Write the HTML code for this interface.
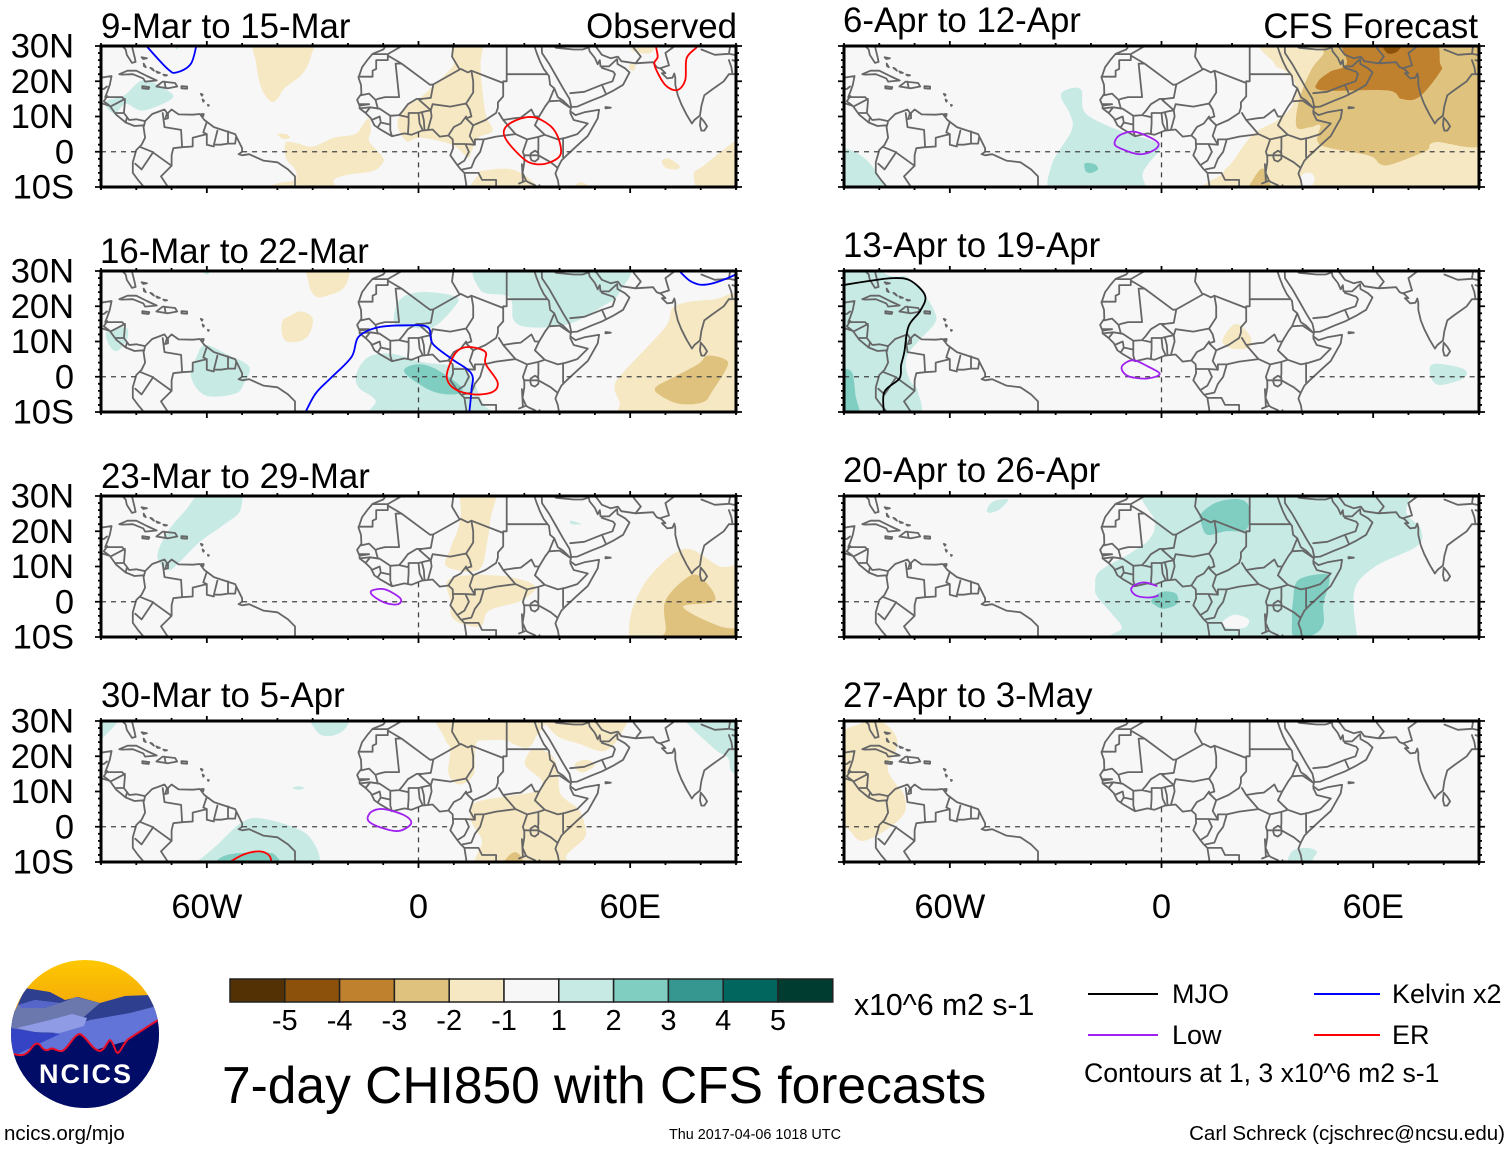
<!DOCTYPE html>
<html lang="en">
<head>
<meta charset="utf-8">
<title>7-day CHI850 with CFS forecasts</title>
<style>
html,body{margin:0;padding:0;background:#fff;}
svg{display:block;font-family:"Liberation Sans",Arial,sans-serif;fill:#000;}
</style>
</head>
<body>
<svg id="chart" xmlns="http://www.w3.org/2000/svg" width="1510" height="1149" viewBox="0 0 1510 1149">
<g id="panels"></g>
<g id="titles" font-size="34.8">
<text x="101" y="38">9-Mar to 15-Mar</text>
<text x="100" y="263">16-Mar to 22-Mar</text>
<text x="101" y="488">23-Mar to 29-Mar</text>
<text x="101" y="707">30-Mar to 5-Apr</text>
<text x="843" y="32">6-Apr to 12-Apr</text>
<text x="843" y="257">13-Apr to 19-Apr</text>
<text x="843" y="482">20-Apr to 26-Apr</text>
<text x="843" y="707">27-Apr to 3-May</text>
<text x="737" y="38" text-anchor="end">Observed</text>
<text x="1478" y="38" text-anchor="end">CFS Forecast</text>
</g>
<g id="colorbar"></g>
<text x="854" y="1015" font-size="30.2">x10^6 m2 s-1</text>
<text x="222" y="1103" font-size="51.5">7-day CHI850 with CFS forecasts</text>
<g font-size="27">
<line x1="1088" y1="994" x2="1158" y2="994" stroke="#000" stroke-width="2"/>
<text x="1172" y="1003">MJO</text>
<line x1="1088" y1="1035" x2="1158" y2="1035" stroke="#a020f0" stroke-width="2"/>
<text x="1172" y="1044">Low</text>
<line x1="1314" y1="994" x2="1380" y2="994" stroke="#0000ff" stroke-width="2"/>
<text x="1392" y="1003">Kelvin x2</text>
<line x1="1314" y1="1035" x2="1380" y2="1035" stroke="#ff0000" stroke-width="2"/>
<text x="1392" y="1044">ER</text>
<text x="1084" y="1082" font-size="26.6">Contours at 1, 3 x10^6 m2 s-1</text>
</g>
<text x="4" y="1140" font-size="20.5">ncics.org/mjo</text>
<text x="669" y="1139" font-size="14.4">Thu 2017-04-06 1018 UTC</text>
<text x="1505" y="1140" font-size="20.5" text-anchor="end">Carl Schreck (cjschrec@ncsu.edu)</text>
<g>
<defs>
<clipPath id="logoClip"><circle cx="85" cy="1034" r="74"/></clipPath>
<linearGradient id="sun" x1="0" y1="0" x2="0" y2="1"><stop offset="0" stop-color="#ffc800"/><stop offset="1" stop-color="#f2a20c"/></linearGradient>
</defs>
<g clip-path="url(#logoClip)">
<rect x="10" y="960" width="150" height="60" fill="url(#sun)"/>
<rect x="10" y="1010" width="150" height="100" fill="#000c66"/>
<path fill="#2f3f8f" d="M5,1035L25,988L50,992L65,1000L78,997L100,1003L125,996L150,995L165,1030Z"/>
<path fill="#6b78ad" d="M5,1028L18,1005L35,1000L60,1003L76,997L100,1003L85,1016L60,1032L5,1034Z"/>
<path fill="#5565c8" d="M18,1005L35,1000L60,1003L45,1008L22,1008Z"/>
<path fill="#6374d8" d="M10,1058L60,1030L90,1020L130,1013L157,1006L165,1018L130,1040L60,1060Z"/>
<path fill="#8f9be4" d="M17,1028L50,1020L72,1014L87,1018L84,1026L60,1033L35,1032Z"/>
<path fill="#3444c4" d="M5,1027L35,1032L60,1034L30,1048L10,1058Z"/>
<path fill="#000c66" d="M14,1054C20,1056 25,1056 30,1050C34,1044 37,1042 40,1045C44,1051 47,1051 50,1049C54,1047 57,1052 62,1051C68,1049 74,1034 80,1034C86,1036 92,1050 100,1051C105,1050 108,1040 110,1040C114,1042 115,1053 118,1053C122,1050 125,1040 130,1038L158,1020L165,1110L5,1110Z"/>
<path fill="none" stroke="#e8102a" stroke-width="2" d="M14,1054C20,1056 25,1056 30,1050C34,1044 37,1042 40,1045C44,1051 47,1051 50,1049C54,1047 57,1052 62,1051C68,1049 74,1034 80,1034C86,1036 92,1050 100,1051C105,1050 108,1040 110,1040C114,1042 115,1053 118,1053C122,1050 125,1040 130,1038L158,1020"/>
</g>
<text id="logoWord" x="86" y="1083" font-size="27" font-weight="bold" text-anchor="middle" letter-spacing="2" style="fill:#fff">NCICS</text>
</g>
</svg>
<script>
// Axis labels and colorbar values
const xTickLons = [-60, 0, 60];
const xTickLabels = ['60W', '0', '60E'];
const xMinorLons = [-90,-80,-70,-50,-40,-30,-20,-10,10,20,30,40,50,70,80,90];
const yTickLats = [30, 20, 10, 0, -10];
const yTickLabels = ['30N', '20N', '10N', '0', '10S'];
const cbColors = ['#543005','#8c510a','#bf812d','#dfc27d','#f6e8c3','#f7f7f7','#c7eae5','#80cdc1','#35978f','#01665e','#003c30'];
const cbLabels = ['-5','-4','-3','-2','-1','1','2','3','4','5'];

// Filled anomaly regions: [level, [lon,lat, lon,lat, ...]]
const shadingObs1 = [
 [-1,[-46,33,-46,25,-44.5,18,-42,14.3,-40,15,-38,18,-33,22,-30.5,27,-30.5,33]],
 [1,[-88.6,13,-88,14.6,-83.4,16,-78,20.3,-71.2,17.4,-70,15,-78,11.7,-83,13.6,-86,10.8]],
 [1,[-69.5,31,-68.5,29,-67.5,31]],
 [-1,[-40,5,-37.5,5,-36.4,4,-38,3.6,-39,4]],
 [-1,[-37.7,2.5,-37.5,-2,-35,-5,-35,-8,-40,-9,-46,-11.5,-25,-11.5,-24,-8,-20,-6.5,-13,-5.5,-10,-3,-10.5,-1,-14,3,-13.5,6,-14,9.5,-15.5,8,-18,5,-24,4,-30,1.5,-35,2.5]],
 [-1,[10,33,9.5,27,9.5,24,0.7,15.5,-3.4,12.7,-6,8,-3.4,3,0.7,4,9.5,2,14,-1.6,15,0,17,4,21,6,19,11,17.6,24,18,33]],
 [-1,[17,-6.4,18,-5.4,26.5,-5,33,-9,33.5,-11.5,15.6,-11.5]],
 [-1,[43.4,-11.5,46,-8.6,50,-11.5]],
 [-1,[69,-2.5,71,-2,74,-4,73,-5,70,-4.5]],
 [-1,[78,-6.5,80.7,-4,89.5,3,93,6,93,-12,80.7,-12]],
 [-1,[60.4,31,61,28.5,65.8,28,66.5,31]],
 [-1,[60,25,61.5,24.5,61,23,59.8,23.5]]
];
const shadingObs2 = [
 [-1,[-31,33,-31,26,-29,22.7,-26,23,-22,24.5,-20,27.5,-20,33]],
 [-1,[-38.7,15.5,-36,17.5,-33,18.5,-30,16.5,-31,12,-34,10,-38,10.5]],
 [1,[-6.8,15,-5.4,21.7,0.7,24,10.8,22.6,9.5,19,4,14,-2,14]],
 [1,[17.6,24.5,19,33,57.7,33,57,24,52.2,20,42.7,15,31.9,14,27,16,25.8,22.6]],
 [1,[-88,13,-83,14,-82.5,11,-85,7.5,-87,8,-88.5,11]],
 [1,[-63,5.5,-60.4,9,-53.6,6,-48,2.8,-49.5,-2,-52,-4.8,-60.4,-5.3,-64.5,0]],
 [1,[-62,31,-60,29,-58.5,31]],
 [1,[-17.6,0.9,-14.2,5.6,-7.5,6.5,0.7,4.2,11.5,2.8,15,-0.1,18.3,-7.6,21,-10,21,-12,-12.2,-12,-12.2,-6.7,-17,-3]],
 [2,[-4,1.3,-0.7,3.5,4.7,2.3,12.2,-3,10.2,-5,3.4,-3.9]],
 [-1,[55.6,-3,57.7,0.9,69.9,14,72.6,20,83.4,21.9,93,21,93,-12,60,-12,57,-7]],
 [-2,[67.2,-3,72.6,0,79.4,3.7,82,6,86.8,5,87.5,2.8,83.4,-3.9,80.7,-7.2,74,-7.7,68.5,-5.3]]
];
const shadingObs3 = [
 [1,[-74,13,-71,20,-66,26,-60,33,-51,33,-50.5,26,-55,22,-62,17,-68,11,-71,9]],
 [-1,[12.5,33,22,33,20.5,24,19.5,17,17,9,8,10,9,15,11,20,12,25]],
 [-1,[9,6.6,23,7.4,33,4.5,29,0.3,20,-2.5,17.4,-7,10,-5,9,0.3]],
 [1,[43,23,45,22.5,46,22,43.5,22]],
 [-1,[59.5,-11,60.5,-2.5,65.7,7.4,75.6,15,85.5,10,93,9,93,-12,59,-12]],
 [-2,[70,-8.5,70,0.3,77,7.4,81,6,84,0.3,75,-1.5,85.5,-7,93,-8,93,-12,67,-12]]
];
const shadingObs4 = [
 [1,[-93,23,-85,30,-85,33,-93,33]],
 [1,[-31,33,-28.6,26.8,-24.5,25.8,-20.4,28.3,-20,33]],
 [1,[-35.7,11,-34,11.5,-32.4,11,-34,10.5]],
 [1,[-64,-11,-58,-6,-50,1.3,-44,2.3,-33.4,-1,-29.2,-5.4,-27.5,-11,-27,-13,-65,-13]],
 [2,[-57.5,-10,-53.4,-7.8,-42.8,-7.3,-39.9,-8.8,-39.3,-10.5,-39,-13,-58,-13]],
 [-1,[6.5,33,7.5,25,9,22,8.5,15,11.5,12,15.5,14.5,16,20,16.5,24,19,24.5,24.5,24.5,28,23,31,22.5,33,25,35,33]],
 [-1,[36.3,33,38.6,26.3,45.6,23.5,52.7,21.5,57.4,26.3,58,33]],
 [-1,[15,1.5,15.5,6.5,24,8.5,33,10,35,13,30.5,17,30.5,19.6,32.7,22,37.4,20.6,39.5,16,40,10,42,7.5,45.6,4.7,47.4,-0.6,46.8,-3.5,42,-8,40.3,-12,17.3,-12,18,-4]],
 [-1,[44.5,18,45,16,47,15.5,50,17.5,47.5,19]],
 [-2,[24,-10.5,26.8,-7.3,29,-8.3,29.7,-11,27,-12]],
 [1,[74.5,33,83.4,22.5,87.7,19.6,88.7,15.8,93,15,93,33]]
];
const shadingFcst1 = [
 [1,[-93,1,-89,0.8,-84.5,-1.6,-81,-5.4,-78.7,-9.7,-78,-12,-93,-12]],
 [1,[-28.5,15.5,-27,17.6,-22.8,17.6,-21.4,10.8,-10.6,5.5,-3.8,3.6,-0.4,1.2,-3.8,-3.5,-5.4,-6.4,-4.5,-9.7,-4,-12,-29.6,-12,-31.2,-4,-25.5,6,-26,10.8]],
 [2,[-21.7,-3.3,-19,-3.5,-18,-5,-20,-6,-21.5,-5.5]],
 [-1,[17,-12,17.5,-6,20,-3,26,5,33,9,37,13,38,19,35,23,32,25,32,33,93,33,93,-12]],
 [-2,[38.3,7,39,14.6,42.3,23,45.7,27.4,50.5,33,93,33,93,3.6,77.6,2.7,75,0.3,65.4,-3.5,62,-3.5,58.6,-1,45,2,45,7.4,42.3,7]],
 [-2,[24,-11,28,-5,30,-6.4,30.5,-12,23,-12]],
 [0,[39.6,-6.9,42.3,-6,43.4,-8,41.7,-11,39.6,-11]],
 [-3,[44.3,19.8,47.8,22.7,52.5,25,52.5,33,75.6,33,79,25,79,22.7,73,15.5,68,15,64,17.4,45.7,17.4]],
 [-4,[62.7,31,64,28,66.8,28.4,68,31]]
];
const shadingFcst2 = [
 [1,[-93,33,-77,28.7,-72,28.2,-67,23,-64,17.7,-64.5,14.8,-68.5,10.5,-72,6.2,-72.4,2.3,-71,-1.5,-69,-4.4,-70,-12,-93,-12]],
 [2,[-93,2.5,-89.7,2.3,-87.6,0.9,-86.7,-5.4,-85.7,-12,-93,-12]],
 [-1,[17.3,10.3,21,15,25,11.8,25,8.4,20,8]],
 [1,[76.3,3.2,80,3.5,86,2,85.5,-0.5,79,-2.3,76.5,-0.5]]
];
const shadingFcst3 = [
 [1,[-18.8,4.2,-17.6,8.6,-8.8,13.8,-3.5,17.7,-1.8,22.5,-2.9,33,41.8,33,44,28,47,33,69.4,33,69.4,25.4,73.5,20.6,72.4,15.8,60.6,10,54.7,3.3,55.3,-9,55.9,-12,-11.2,-12,-11.2,-7.3,-14,-3.5,-18.2,1.4]],
 [0,[17,-6,20.6,-3.7,24.7,-5,23.5,-7.4,18.2,-7.3]],
 [2,[11.2,25,15.9,28.3,22.4,29,25,26.3,24,20.5,18.2,20,13,19,11.2,22.5]],
 [2,[-2.9,0.4,0,2.8,4.1,2.3,4.4,-0.6,0.6,-2,-1.8,-1]],
 [2,[37.3,0.4,38.8,6.2,46.5,7.9,47.6,5.7,45.9,-0.6,45.9,-6.3,43,-9.4,37.6,-10,37,-5.4]],
 [1,[-49.4,26.3,-47.6,28.5,-43.5,29,-45.8,26.3,-48.8,25.2]]
];
const shadingFcst4 = [
 [-1,[-91,24.4,-86,29,-79.5,29.7,-75.6,26.3,-75,22.5,-77.6,16.7,-75.5,12.4,-73,9,-73,3.7,-79,-1.5,-85,-4,-88.4,-1,-91,3.3]],
 [1,[36,-11,37,-7,41,-6,44,-7,43,-9,42,-11]]
];

// Contour lines: [series, closed, [lon,lat, ...]]
const contoursObs1 = [
 ['Kelvin',false,[-78,31,-71.2,23.6,-68.5,22.5,-64.5,25,-62.8,31]],
 ['ER',true,[24.4,6.5,27.8,9,32.6,9.8,37.3,7.4,39.6,4,40.3,-0.7,37.3,-3,33.2,-3.5,29.8,-2,25,3.2]],
 ['ER',false,[67,31,67.8,27,66.9,24.6,69.9,19,73.3,17.5,75.6,20.3,76,26.5,78.7,29.5,80,31]]
];
const contoursObs2 = [
 ['Kelvin',false,[-32.5,-11,-29.2,-4.8,-25,-0.5,-19,5.6,-17,11.3,-11.5,14,-3.4,14.6,2.7,14,4,9.4,9.5,5,15,0.9,15,-3.9,14.3,-11]],
 ['Kelvin',false,[73,31,77.3,27,82,26.2,89.5,28.8,92,31]],
 ['ER',true,[9.5,5,11.5,7.7,15,8.4,19,7,19,3.7,22.4,-1.5,21,-4.3,15.6,-5,10.2,-3.4,8,0]]
];
const contoursObs3 = [
 ['Low',true,[-13.2,3.2,-9.5,3.5,-5.2,1,-5.8,-0.7,-9.5,-0.3,-13,1.8]]
];
const contoursObs4 = [
 ['ER',false,[-55,-11,-49.9,-8,-45,-7,-42.2,-8.3,-41.6,-11]],
 ['Low',true,[-14.3,1.8,-13.4,4.2,-9.8,5,-3.9,3.2,-2.1,0.9,-5.7,-1.2,-11,-0.1]]
];
const contoursFcst1 = [
 ['Low',true,[-13.3,2.2,-12,4.6,-7.9,5.7,-3.1,4,-0.8,2.2,-2.4,0.3,-6.5,-0.7,-11.3,0.8]]
];
const contoursFcst2 = [
 ['MJO',false,[-91,25.9,-82,27.3,-76,28,-71.2,27.3,-67,23,-68.4,18.7,-71.7,14.3,-72.9,7,-73.8,3.3,-74.3,-0.5,-78.6,-4.4,-78.6,-11]],
 ['Low',true,[-11,3.3,-8,4.7,-4,3,-0.5,0.8,-4,-0.5,-9,0,-11,1.5]]
];
const contoursFcst3 = [
 ['Low',false,[-1.2,4.4,-4.7,5.5,-7.6,4.7,-8.6,3.3,-7,1.7,-3.5,1.2,-0.8,1.8]]
];
const contoursFcst4 = [];

const panelShading = [shadingObs1,shadingObs2,shadingObs3,shadingObs4,shadingFcst1,shadingFcst2,shadingFcst3,shadingFcst4];
const panelContours = [contoursObs1,contoursObs2,contoursObs3,contoursObs4,contoursFcst1,contoursFcst2,contoursFcst3,contoursFcst4];
const panelNames = ['9-mar','16-mar','23-mar','30-mar','6-apr','13-apr','20-apr','27-apr'];
const seriesColors = {MJO:'#000000',Low:'#a020f0',Kelvin:'#0000ff',ER:'#ff0000'};

// Map outlines in lon/lat
const mapLines = [
 // Africa west coast
 [-9.7,31,-9.6,29.5,-10,29,-13,27.8,-14.5,26,-16,24,-17,21,-16.3,19,-16.2,16.5,-17.4,14.7,-16.7,13,-16.7,12.3,-15,11,-13.5,9.5,-12.5,7.5,-10.8,6.3,-7.5,4.4,-4,5.2,-2,4.8,1,6,4,6.3,6,4.3,8.5,4.6,9.7,3.5,9.8,1,9,-1,11,-3.8,12,-5,13,-6,13.5,-9,13.7,-11],
 // Africa east coast
 [32.5,31,33.5,28,34.5,25.5,35.5,23.5,37,21.5,37.3,19,38.5,18,39.5,15.5,41,14.5,43.2,12.3,43,11.5,44.5,10.4,47,11.2,51.2,11.9,50.8,9.5,48,4.5,45,1.8,42,-1,40.5,-2.5,39.5,-4.5,38.8,-6.2,39.5,-8,40,-11],
 // NW and Sahara borders
 [-13,27.7,-8.7,27.7,-3,31],[-8.7,27.7,-8.7,26,-12,26,-12,23.5,-13,23,-13,21.3,-17,21.3],
 [-8.7,27.3,-4.8,25,-6.5,25,-5.5,15.5,-9.5,15.5,-11.5,15,-12.2,14.7],
 [-4.8,25,3.3,19,4.2,19.1,12,23.5,14,22.5,15,23,24,19.5],[10,31,9.5,27,11.5,23.6],
 [4.2,19.1,3.5,15.3,1,15,0.2,14.7,3.5,11.8,4,13.5,9,12.8,13.5,13.7,15.5,16.8,15.5,20,15,23],
 [24,19.5,24,15.7,22.5,14,22.5,12.5,22,11,19,9,15.5,7.5,13.5,9.5,15,10,14.5,12,13.5,13.7],
 [25,31,25,20,24,20,24,19.5],[25,22,36.6,22],
 [24,9,27,9.5,29,9.7,32,12,33,10,34.2,10,36,13,37,14.3,38.5,18],[37,14.3,40,14.5,43,12.5],
 [22.8,11,24,9,27.5,5,30.8,3.5,34,4.2,35.8,4.8,33,7.5,34.2,10],
 [35.8,4.8,39.5,3.5,41.5,3.9,45,5,48,8,44,9,43,11],[41,3.9,41,-1.6],
 [34,4.2,34,1,33.9,0,34,-1,37.5,-3,39.5,-4.6],[30.8,3.5,29.6,0,30,-1.3,30,-3,29.5,-6,30.5,-8.2,31,-8.6,33,-9.5,34.5,-11.5],[30,-1,34,-1],
 [31.8,-0.5,33,0.3,34,-0.3,34,-2,33,-2.8,32,-2.4,31.7,-1.5,31.8,-0.5],[29.3,-3.5,29.6,-8.5],[34.3,-9.5,34.5,-11],[40,-10.6,37,-11.5],
 [18.5,3.5,22,4.3,27.5,5],[16,3.5,18.5,3.5,17.5,0,16,-2,15,-4.5,12.5,-5],
 [9.8,2.2,13.3,2.2,16,2,16,3.5],[13.3,2.2,14.3,0,13,-2.5,11,-3.8],[15.5,7.5,14.5,4.5,16,2],
 [8.5,4.7,10,7,12,8,13.5,10],[2.7,6.3,3.7,10,3.5,11.8],[1.7,6.2,1.5,9,1,11],[1.2,6.1,0.3,8,0,11],
 [-3,5,-2.8,8,-2.8,11,0,11,2,11.5,3.5,11.8],[1,15,-0.5,15,-3,13.5,-4.5,11.5,-5.5,10.4,-2.8,9.8],
 [-5.5,10.4,-8,10.2,-11,12.2,-13.7,12.6,-16.7,12.3],[-13.7,12.6,-15,11],[-13.3,9,-11,10,-10.7,8.3,-11.5,7],
 [-7.5,4.4,-8,6,-8,7.7,-8,10.2],[-10.7,8.3,-8,7.7],[-16.3,16,-14,16.5,-12.2,14.7,-11.5,12.2],[-16.7,13.5,-14,13.5,-16.7,13.1],
 [13,-6,17,-6,18,-8,22,-8,22,-11],[28.5,-9,30.5,-8.2],
 // Arabia
 [34.9,31,35,28,37,25,39,21.5,41,18,42.8,15,43.3,12.7,45,12.8,49,14.5,52,15.7,55,17.2,58,19,59.8,22.5,58.5,23.7,56.4,24.9,56.3,26.3,54,24.2,51.6,24.2,51.4,26,50.8,24.8,50,26.6,48.5,28.5,48,31],
 [43,16.6,47,17,52,19,53,16.7],[52,19,55,20,55.7,22,55.2,22.7,52,23.8],[37,31,39,29.5,44,29,46.5,29,48,29.5],
 // Iran, Pakistan, India
 [48.5,31,50.5,29.5,52,27.5,54.5,26.5,56.5,27,57.5,25.7,61.5,25.1,66.5,25.4,67.5,24,68.8,23.5,70,22.3,69,22.3,70.5,20.8,72,21,72.5,22.2,72.8,21,72.8,19,73.5,16,74.5,13.5,76,10.5,77.5,8,78.2,9,79.8,10.3,80.2,13,81,16,83,17.5,86.5,20,88,22,89.5,22,91,22.5],
 [80,9.7,81,8.5,81.8,7.2,81,6,80.2,6,79.8,7.5,80,9.7],[68.5,23.7,71,24.5,70,28,74,31],[61.5,25.1,63,27,61,29.5,61,31],[80.2,29,84,27.5,88,27.8,88.5,31],[88,26,88.7,24,89,22],[88,27.8,92,27],[89,26,92,25],
 [53,12.7,54.5,12.5,53,12.3,53,12.7],
 // Florida and Gulf
 [-81.5,31,-80.5,27,-80.2,25.5,-81.2,25.2,-82.7,27.5,-83,29,-84,30,-86,30.5,-89,30.3,-90,29.5,-92,29.5],
 // Central America
 [-92,18.5,-90.5,19.5,-90,21,-87,21.5,-87.5,19,-88.2,17,-88.8,15.5,-84,15.5,-83.2,14.5,-83.5,11,-82,9,-80,9.2,-77.5,8.7],
 [-92,14.5,-90,13.8,-87.5,13,-85.7,10.5,-83,8.3,-80.5,7.3,-78,7.5],
 [-88.2,15.8,-89.2,14.3,-87.5,13],[-83.2,15,-87,13],[-83.6,11,-85.7,11],[-82.7,9.6,-83,8.3],[-92,17.8,-89.2,17.8,-88.3,18.5],
 // South America coast
 [-77.5,8.7,-75.5,10.7,-72,12,-71.3,11,-71.8,9.3,-71,9.5,-71,11,-70,12,-68,10.6,-64,10.5,-62,10.7,-60.7,9,-58,7,-55,6,-52,5,-50,1,-50,0,-51,-0.7,-50,-1,-48,-0.7,-44,-2.5,-40,-3,-37,-5,-35,-7,-35,-11],
 [-78,7.5,-77.5,4,-78.5,2,-80,0.5,-81,-3,-81,-6,-79.5,-8,-77,-11],
 // South America borders
 [-60,8.5,-61,5.5,-60,5,-64,4,-64,1.5,-67,1.3,-67.3,6.2,-72,7,-72.5,11],
 [-79,1.4,-75.5,0,-70,-4,-70,-1,-69.5,1,-67,1.3],[-80.3,-3.4,-78.5,-5,-75.2,-0.1],[-70,-4,-73,-7,-71,-10],
 [-57,6,-58,2,-56,2,-54,2.3,-54,5.8],[-54,2.3,-52,2.3,-51.7,4.1],[-60,5,-60,2,-58,1.5],[-77.5,8.7,-77.8,7.3],
 // Caribbean islands
 [-84.8,22,-82.5,23,-80,23,-77,21.5,-74.2,20.2,-77.5,19.9,-78,20.8,-81,22,-84,21.9,-84.8,22],
 [-74.3,18.5,-72.5,19.9,-69,19.5,-68.4,18.5,-71,18,-74.3,18.5],[-72,19.9,-71.7,18.2],[-78.3,18.6,-76.3,18.3,-76.5,17.8,-78.3,18,-78.3,18.6],[-67.2,18.6,-65.6,18.5,-65.6,17.9,-67.2,18,-67.2,18.6],
 [-78.5,26.8,-77,26.5,-78,26.3,-78.5,26.8],[-77.9,25,-77.3,24,-77.8,24.3,-77.9,25],[-76,23.8,-75,23,-75.5,23.6,-76,23.8],[-74.3,22.8,-73.3,22.4,-74,22.4,-74.3,22.8],[-72.3,21.9,-71.3,21.7,-72,21.6,-72.3,21.9],[-61.7,16.4,-61.2,16.2,-61.4,15.9,-61.7,16.4],[-61.2,14.8,-60.8,14.5,-61,14.2,-61.2,14.8],[-59.7,13.3,-59.4,13.2,-59.6,13,-59.7,13.3],[-61.5,10.7,-60.9,10.7,-61,10.1,-61.5,10.1,-61.5,10.7]
];
// Ocean-only stretches of the zero-degree reference lines
const equatorSpans = [[-90,-80],[-50,9.5],[42,90]];
const meridianSpan = [5.5,-10];

const NS = 'http://www.w3.org/2000/svg';
const panelsRoot = document.getElementById('panels');
const PANEL_W = 635, PANEL_H = 141;
const panelLeft = col => col === 0 ? 101 : 844;
const panelTop = row => 46 + 225 * row;
const lonX = (lon, col) => panelLeft(col) + (lon + 90) * PANEL_W / 180;
const latY = (lat, row) => panelTop(row) + (30 - lat) * PANEL_H / 40;

function make(tag, attrs, parent) {
  const el = document.createElementNS(NS, tag);
  for (const k in attrs) el.setAttribute(k, attrs[k]);
  parent.appendChild(el);
  return el;
}
function project(flat, col, row) {
  const out = [];
  for (let i = 0; i < flat.length; i += 2) out.push([lonX(flat[i], col), latY(flat[i + 1], row)]);
  return out;
}
function spline(pts, closed) {
  const n = pts.length;
  const get = i => closed ? pts[(i + n) % n] : pts[Math.max(0, Math.min(n - 1, i))];
  let d = 'M' + pts[0][0].toFixed(1) + ',' + pts[0][1].toFixed(1);
  const last = closed ? n : n - 1;
  for (let i = 0; i < last; i++) {
    const p0 = get(i - 1), p1 = get(i), p2 = get(i + 1), p3 = get(i + 2);
    const c1x = p1[0] + (p2[0] - p0[0]) / 6, c1y = p1[1] + (p2[1] - p0[1]) / 6;
    const c2x = p2[0] - (p3[0] - p1[0]) / 6, c2y = p2[1] - (p3[1] - p1[1]) / 6;
    d += 'C' + c1x.toFixed(1) + ',' + c1y.toFixed(1) + ' ' + c2x.toFixed(1) + ',' + c2y.toFixed(1) + ' ' + p2[0].toFixed(1) + ',' + p2[1].toFixed(1);
  }
  return d + (closed ? 'Z' : '');
}
function polyline(pts) {
  return 'M' + pts.map(p => p[0].toFixed(1) + ',' + p[1].toFixed(1)).join('L');
}

panelNames.forEach((name, idx) => {
  const col = idx < 4 ? 0 : 1;
  const row = idx % 4;
  const left = panelLeft(col), top = panelTop(row);
  const g = make('g', {}, panelsRoot);
  
  

  const defs = make('defs', {}, g);
  const clip = make('clipPath', {id: 'clip' + idx}, defs);
  make('rect', {x: left, y: top, width: PANEL_W, height: PANEL_H}, clip);

  const bg = make('rect', {x: left, y: top, width: PANEL_W, height: PANEL_H, fill: '#f7f7f7'}, g);
  
  

  const inner = make('g', {'clip-path': 'url(#clip' + idx + ')'}, g);

  panelShading[idx].forEach(item => {
    const region = make('path', {d: spline(project(item[1], col, row), true), fill: cbColors[5 + item[0]]}, inner);
    
    
  });

  let mapD = '';
  mapLines.forEach(line => { mapD += polyline(project(line, col, row)); });
  const map = make('path', {d: mapD, fill: 'none', stroke: '#666', 'stroke-width': 1.8, 'stroke-linejoin': 'round', 'stroke-linecap': 'round'}, inner);
  
  

  equatorSpans.forEach(span => {
    const eq = make('line', {x1: lonX(span[0], col), x2: lonX(span[1], col), y1: latY(0, row), y2: latY(0, row), stroke: '#444', 'stroke-width': 1.3, 'stroke-dasharray': '5 5'}, inner);
    
    
  });
  const mer = make('line', {x1: lonX(0, col), x2: lonX(0, col), y1: latY(meridianSpan[0], row), y2: latY(meridianSpan[1], row), stroke: '#444', 'stroke-width': 1.3, 'stroke-dasharray': '5 5'}, inner);
  
  

  panelContours[idx].forEach(item => {
    const line = make('path', {d: spline(project(item[2], col, row), item[1]), fill: 'none', stroke: seriesColors[item[0]], 'stroke-width': 1.8}, inner);
    
    
  });

  const frame = make('rect', {x: left, y: top, width: PANEL_W, height: PANEL_H, fill: 'none', stroke: '#000', 'stroke-width': 3}, g);
  
  

  let tickD = '';
  xMinorLons.forEach(lon => {
    const x = lonX(lon, col);
    tickD += 'M' + x + ',' + (top - 3) + 'V' + top + 'M' + x + ',' + (top + PANEL_H) + 'V' + (top + PANEL_H + 3);
  });
  xTickLons.forEach(lon => {
    const x = lonX(lon, col);
    tickD += 'M' + x + ',' + (top - 5) + 'V' + top + 'M' + x + ',' + (top + PANEL_H) + 'V' + (top + PANEL_H + 6);
  });
  for (let lat = -10; lat <= 30; lat += 2) {
    const y = latY(lat, row);
    const len = lat % 10 === 0 ? 6 : 3;
    tickD += 'M' + (left - len) + ',' + y + 'H' + left + 'M' + (left + PANEL_W) + ',' + y + 'H' + (left + PANEL_W + len);
  }
  const ticks = make('path', {d: tickD, stroke: '#000', 'stroke-width': 1.8, fill: 'none'}, g);
  
  

  if (col === 0) {
    yTickLats.forEach((lat, i) => {
      const t = make('text', {x: 74, y: latY(lat, row) + 11.5, 'text-anchor': 'end', 'font-size': 34.5}, g);
      t.textContent = yTickLabels[i];
      
      
    });
  }
  if (row === 3) {
    xTickLons.forEach((lon, i) => {
      const t = make('text', {x: lonX(lon, col), y: 918, 'text-anchor': 'middle', 'font-size': 34.5}, g);
      t.textContent = xTickLabels[i];
      
      
    });
  }
});

// Colorbar
const cbRoot = document.getElementById('colorbar');
const CB_LEFT = 230, CB_W = 54.8, CB_TOP = 979, CB_H = 23;
cbColors.forEach((c, i) => {
  const box = make('rect', {x: CB_LEFT + i * CB_W, y: CB_TOP, width: CB_W, height: CB_H, fill: c, stroke: '#222', 'stroke-width': 1.5}, cbRoot);
  
  
});
cbLabels.forEach((label, i) => {
  const t = make('text', {x: CB_LEFT + (i + 1) * CB_W, y: 1030, 'text-anchor': 'middle', 'font-size': 29}, cbRoot);
  t.textContent = label;
  
  
});
</script>
</body>
</html>
